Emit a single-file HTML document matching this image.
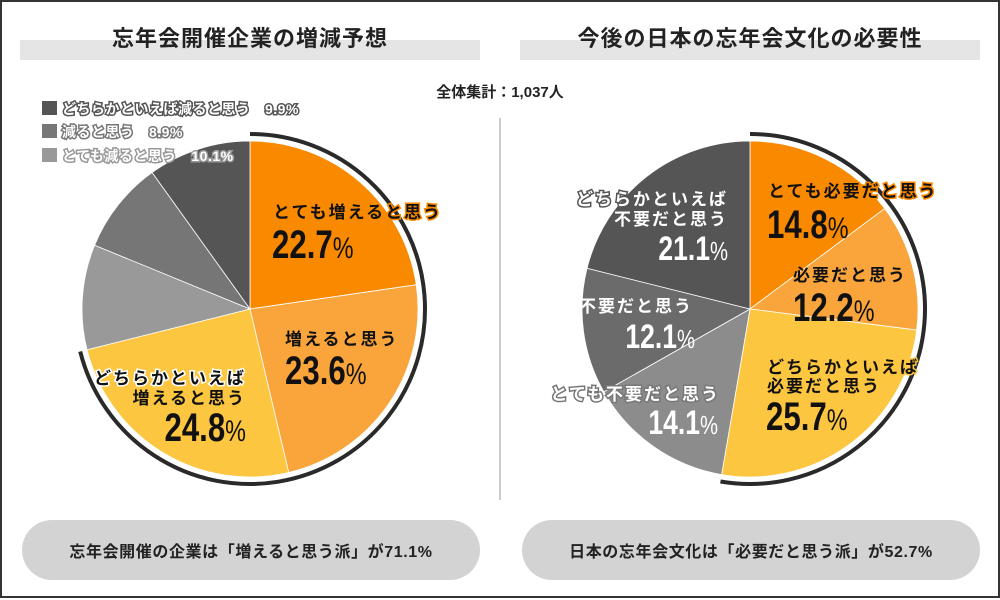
<!DOCTYPE html>
<html><head><meta charset="utf-8">
<style>
html,body{margin:0;padding:0;background:#fff;}
svg{display:block;}
text{font-family:"Liberation Sans","Noto Sans CJK JP",sans-serif;font-weight:bold;}
.lb{font-size:17px;letter-spacing:2px;}
</style></head>
<body>
<svg id="s" width="1000" height="600" viewBox="0 0 1000 600" xmlns="http://www.w3.org/2000/svg">
<rect x="1" y="1" width="998" height="596" fill="#fff" stroke="#333" stroke-width="2"/>
<rect x="20" y="40" width="460" height="20" fill="#e5e5e5"/>
<rect x="520" y="40" width="460" height="20" fill="#e5e5e5"/>
<text x="250" y="46" font-size="22" text-anchor="middle" fill="#222" letter-spacing="1">忘年会開催企業の増減予想</text>
<text x="750" y="46" font-size="22" text-anchor="middle" fill="#222" letter-spacing="1">今後の日本の忘年会文化の必要性</text>
<text x="500" y="97" font-size="15" text-anchor="middle" fill="#222">全体集計：1,037人</text>
<line x1="500" y1="118" x2="500" y2="500" stroke="#ccc" stroke-width="2"/>
<g id="pies"></g>
<!-- legend -->
<rect x="42" y="101" width="15" height="14" fill="#555"/>
<rect x="42" y="124" width="15" height="14" fill="#777"/>
<rect x="42" y="148" width="15" height="14" fill="#999"/>
<g font-size="14" fill="#fff" stroke-width="3" paint-order="stroke" letter-spacing="0.5">
<text x="62" y="114" stroke="#555">どちらかといえば減ると思う　9.9%</text>
<text x="62" y="137" stroke="#777">減ると思う　8.9%</text>
<text x="62" y="161" stroke="#999">とても減ると思う　10.1%</text>
</g>
<!-- left labels -->
<g fill="#111">
<text x="273" y="218" class="lb" stroke="#f98a00" stroke-width="3" paint-order="stroke">とても増えると思う</text>
<text x="272" y="258" font-size="40" transform="translate(272 258) scale(0.78 1) translate(-272 -258)">22.7<tspan font-size="30" font-weight="normal">%</tspan></text>
<text x="285" y="345" class="lb">増えると思う</text>
<text x="285" y="384" font-size="40" transform="translate(285 384) scale(0.78 1) translate(-285 -384)">23.6<tspan font-size="30" font-weight="normal">%</tspan></text>
<text x="246" y="384" class="lb" text-anchor="end" stroke="#fff" stroke-width="3" paint-order="stroke">どちらかといえば</text>
<text x="246" y="404" class="lb" text-anchor="end">増えると思う</text>
<text x="246" y="441" font-size="40" text-anchor="end" transform="translate(246 441) scale(0.78 1) translate(-246 -441)">24.8<tspan font-size="30" font-weight="normal">%</tspan></text>
</g>
<!-- right labels -->
<g fill="#111">
<text x="768" y="197" class="lb" stroke="#f98a00" stroke-width="3" paint-order="stroke">とても必要だと思う</text>
<text x="767" y="238" font-size="40" transform="translate(767 238) scale(0.78 1) translate(-767 -238)">14.8<tspan font-size="30" font-weight="normal">%</tspan></text>
<text x="793" y="281" class="lb">必要だと思う</text>
<text x="793" y="321" font-size="40" transform="translate(793 321) scale(0.78 1) translate(-793 -321)">12.2<tspan font-size="30" font-weight="normal">%</tspan></text>
<text x="767" y="373" class="lb" stroke="#fdc640" stroke-width="3" paint-order="stroke">どちらかといえば</text>
<text x="767" y="392" class="lb">必要だと思う</text>
<text x="766" y="430" font-size="40" transform="translate(766 430) scale(0.78 1) translate(-766 -430)">25.7<tspan font-size="30" font-weight="normal">%</tspan></text>
</g>
<g fill="#fff" stroke-width="3" paint-order="stroke">
<text x="728" y="205" class="lb" text-anchor="end" stroke="#555">どちらかといえば</text>
<text x="728" y="225" class="lb" text-anchor="end">不要だと思う</text>
<text x="728" y="260" font-size="34" text-anchor="end" transform="translate(728 260) scale(0.78 1) translate(-728 -260)">21.1<tspan font-size="26" font-weight="normal">%</tspan></text>
<text x="693" y="312" class="lb" text-anchor="end">不要だと思う</text>
<text x="695" y="348" font-size="34" text-anchor="end" transform="translate(695 348) scale(0.78 1) translate(-695 -348)">12.1<tspan font-size="26" font-weight="normal">%</tspan></text>
<text x="720" y="400" class="lb" text-anchor="end" stroke="#777">とても不要だと思う</text>
<text x="718" y="434" font-size="34" text-anchor="end" transform="translate(718 434) scale(0.78 1) translate(-718 -434)">14.1<tspan font-size="26" font-weight="normal">%</tspan></text>
</g>
<!-- pills -->
<rect x="22" y="520" width="458" height="60" rx="30" fill="#d3d3d3"/>
<rect x="522" y="520" width="458" height="60" rx="30" fill="#d3d3d3"/>
<text x="251" y="557" font-size="16" text-anchor="middle" fill="#222" letter-spacing="0.6">忘年会開催の企業は「増えると思う派」が71.1%</text>
<text x="751" y="557" font-size="16" text-anchor="middle" fill="#222" letter-spacing="0.6">日本の忘年会文化は「必要だと思う派」が52.7%</text>
</svg>
<script>
(function(){
var NS="http://www.w3.org/2000/svg",g=document.getElementById('pies');
function pt(cx,cy,r,f){var a=f*2*Math.PI;return [cx+r*Math.sin(a),cy-r*Math.cos(a)];}
function pie(cx,cy,r,data,arcEnd){
 var c=0;
 data.forEach(function(d){
  var s=pt(cx,cy,r,c),e=pt(cx,cy,r,c+d[0]/100),l=d[0]>50?1:0;
  var p=document.createElementNS(NS,'path');
  p.setAttribute('d','M'+cx+' '+cy+'L'+s[0]+' '+s[1]+'A'+r+' '+r+' 0 '+l+' 1 '+e[0]+' '+e[1]+'Z');
  p.setAttribute('fill',d[1]);p.setAttribute('stroke','#fff');p.setAttribute('stroke-width','0.8');
  g.appendChild(p);c+=d[0]/100;
 });
 var R=r+7,s=pt(cx,cy,R,0),e=pt(cx,cy,R,arcEnd/100);
 var a=document.createElementNS(NS,'path');
 a.setAttribute('d','M'+s[0]+' '+s[1]+'A'+R+' '+R+' 0 '+(arcEnd>50?1:0)+' 1 '+e[0]+' '+e[1]);
 a.setAttribute('fill','none');a.setAttribute('stroke','#2a2a2a');a.setAttribute('stroke-width','4');
 g.appendChild(a);
}
pie(250,309,168,[[22.7,'#f98a00'],[23.6,'#f9a53c'],[24.8,'#fdc640'],[10.1,'#999'],[8.9,'#767676'],[9.9,'#555']],71.1);
pie(750,309,168,[[14.8,'#f98a00'],[12.2,'#f9a53c'],[25.7,'#fdc640'],[14.1,'#8c8c8c'],[12.1,'#6b6b6b'],[21.1,'#555']],52.7);
})();
</script>
</body></html>
